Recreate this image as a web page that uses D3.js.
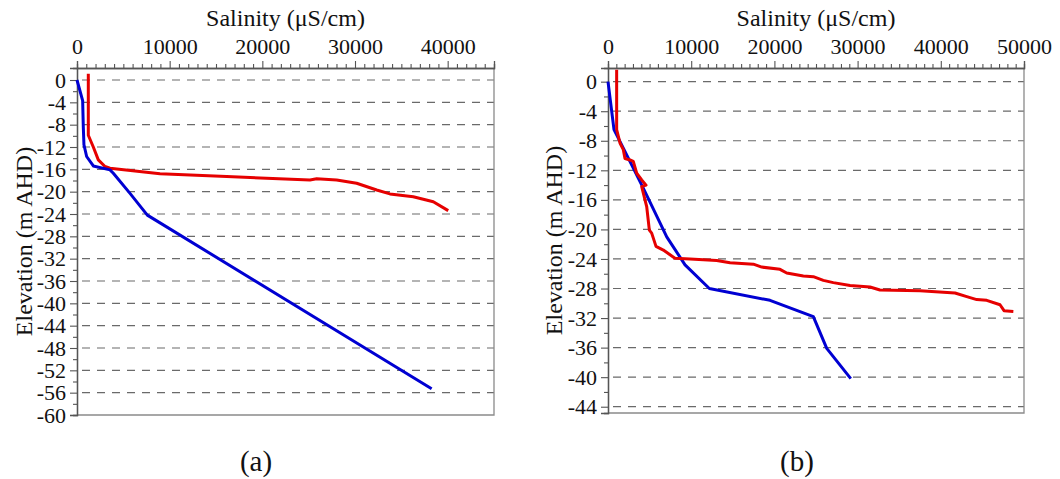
<!DOCTYPE html>
<html>
<head>
<meta charset="utf-8">
<script src="https://cdn.jsdelivr.net/npm/d3@7"></script>
<style>
  html, body { margin: 0; padding: 0; background: #fff; }
  svg { display: block; }
</style>
</head>
<body>
<svg id="chart" width="1060" height="479"></svg>
<script>
// Salinity profiles (µS/cm) against elevation (m AHD) for two bores.

// Panel (a): blue profile
const aBlueSalinity  = [0, 610, 680, 750, 1040, 1760, 3560, 3920, 5720, 7590, 38270];
const aBlueElevation = [0, -3.7, -8.4, -11.6, -13.7, -15.4, -16.1, -16.7, -20.3, -24.2, -55.3];

// Panel (a): red profile
const aRedSalinity  = [1220, 1220, 1760, 2300, 3020, 3560, 8960, 16150, 25140, 25860, 28020, 30180, 32340, 33770, 36290, 38450, 40060];
const aRedElevation = [1.1, -9.9, -12, -14.3, -15.5, -15.8, -16.8, -17.3, -17.9, -17.7, -17.9, -18.5, -19.7, -20.4, -20.9, -21.8, -23.4];

// Panel (b): blue profile
const bBlueSalinity  = [0, 720, 1840, 4240, 7060, 9260, 12180, 19470, 24680, 26290, 29180];
const bBlueElevation = [0, -6.5, -9.0, -14.4, -21.0, -24.8, -28.0, -29.6, -31.8, -36.1, -40.2];

// Panel (b): red profile
const bRedSalinity  = [1040, 1040, 1440, 1840, 2040, 2640, 3040, 3450, 4050, 4570, 4050, 4650, 4970, 5250, 5770, 6650, 8050, 9860, 13070, 14670, 17470, 18480, 20670, 21480, 23480, 24680, 25880, 27080, 29090, 31490, 32690, 37500, 41710, 43120, 44320, 45520, 47120, 47600, 48720];
const bRedElevation = [1.6, -6.5, -8.3, -9.2, -10.4, -10.6, -10.8, -12.4, -13.3, -14.0, -14.2, -16.9, -20.1, -20.5, -22.3, -22.8, -23.9, -24.0, -24.2, -24.5, -24.7, -25.1, -25.4, -25.9, -26.3, -26.4, -26.9, -27.2, -27.6, -27.8, -28.2, -28.3, -28.6, -29.1, -29.5, -29.6, -30.2, -31.0, -31.1];

// Axis tick values
const aSalinityTicks  = [0, 10000, 20000, 30000, 40000];
const bSalinityTicks  = [0, 10000, 20000, 30000, 40000, 50000];
const aElevationTicks = [0, -4, -8, -12, -16, -20, -24, -28, -32, -36, -40, -44, -48, -52, -56, -60];
const bElevationTicks = [0, -4, -8, -12, -16, -20, -24, -28, -32, -36, -40, -44];

const xTitle = "Salinity (\u03BCS/cm)";
const yTitle = "Elevation (m AHD)";
const panelLabels = ["(a)", "(b)"];

const FONT = "Liberation Serif";
const svg = d3.select("#chart");
const zip = (xs, ys) => xs.map((x, i) => [x, ys[i]]);

const panels = [
  {
    left: 77, right: 494, top: 68, bottom: 415,
    xMax: 45000, yDomain: [-60, 2.15],
    xTicks: aSalinityTicks, yTicks: aElevationTicks,
    series: [
      { pts: zip(aRedSalinity, aRedElevation), color: "#e60000" },
      { pts: zip(aBlueSalinity, aBlueElevation), color: "#0000d2" }
    ],
    ylabelX: 32, labelX: 256, label: panelLabels[0]
  },
  {
    left: 608, right: 1024, top: 68, bottom: 413,
    xMax: 50000, yDomain: [-44.85, 1.85],
    xTicks: bSalinityTicks, yTicks: bElevationTicks,
    series: [
      { pts: zip(bBlueSalinity, bBlueElevation), color: "#0000d2" },
      { pts: zip(bRedSalinity, bRedElevation), color: "#e60000" }
    ],
    ylabelX: 562, labelX: 797, label: panelLabels[1]
  }
];

panels.forEach(p => {
  const x = d3.scaleLinear().domain([0, p.xMax]).range([p.left, p.right]);
  const y = d3.scaleLinear().domain(p.yDomain).range([p.bottom, p.top]);
  const g = svg.append("g");

  // dashed horizontal grid at each labelled elevation inside the frame
  g.append("g").selectAll("line")
    .data(p.yTicks.filter(v => v > p.yDomain[0] + 0.5))
    .join("line")
    .attr("x1", p.left + 5).attr("x2", p.right)
    .attr("y1", d => y(d)).attr("y2", d => y(d))
    .attr("stroke", "#6a6a6a").attr("stroke-width", 1.2)
    .attr("stroke-dasharray", "8,7");

  // frame: right and bottom edges
  g.append("path")
    .attr("d", `M${p.left},${p.bottom}H${p.right}V${p.top}`)
    .attr("fill", "none").attr("stroke", "#8a8a8a").attr("stroke-width", 1.3);

  // top axis: minor ticks every 1000, major ticks with labels every 10000
  const minorX = d3.range(0, p.xMax + 1, 1000).filter(v => v % 10000 !== 0);
  const topMinor = g.append("g").attr("transform", `translate(0,${p.top})`)
    .call(d3.axisTop(x).tickValues(minorX).tickSize(4).tickFormat(""));
  const topMajor = g.append("g").attr("transform", `translate(0,${p.top})`)
    .call(d3.axisTop(x).tickValues(p.xTicks).tickSize(7).tickPadding(7).tickFormat(d => String(d)));

  // left axis: minor ticks every 2 m, major ticks with labels every 4 m
  const minorY = d3.range(Math.ceil(p.yDomain[0]), 1, 2).filter(v => v % 4 !== 0);
  const leftMinor = g.append("g").attr("transform", `translate(${p.left},0)`)
    .call(d3.axisLeft(y).tickValues(minorY).tickSize(4).tickFormat(""));
  const leftMajor = g.append("g").attr("transform", `translate(${p.left},0)`)
    .call(d3.axisLeft(y).tickValues(p.yTicks).tickSize(7).tickPadding(4).tickFormat(d => String(d)));

  [topMinor, topMajor, leftMinor, leftMajor].forEach(ax => {
    ax.attr("font-family", FONT).attr("font-size", 22);
    ax.select(".domain").attr("stroke", "#555").attr("stroke-width", 1.3);
    ax.selectAll(".tick line").attr("stroke", "#555").attr("stroke-width", 1.1);
    ax.selectAll(".tick text").attr("fill", "#111").style("font-family", FONT);
  });

  // profiles
  const line = d3.line().x(d => x(d[0])).y(d => y(d[1]));
  p.series.forEach(s => {
    g.append("path").datum(s.pts)
      .attr("d", line)
      .attr("fill", "none")
      .attr("stroke", s.color)
      .attr("stroke-width", 3)
      .attr("stroke-linejoin", "round");
  });

  // axis titles
  g.append("text")
    .attr("x", (p.left + p.right) / 2).attr("y", 26)
    .attr("text-anchor", "middle").attr("fill", "#111")
    .style("font-family", FONT).style("font-size", "24px")
    .text(xTitle);
  g.append("text")
    .attr("transform", `translate(${p.ylabelX},${(p.top + p.bottom) / 2}) rotate(-90)`)
    .attr("text-anchor", "middle").attr("fill", "#111")
    .style("font-family", FONT).style("font-size", "24px")
    .text(yTitle);

  // panel label
  g.append("text")
    .attr("x", p.labelX).attr("y", 471)
    .attr("text-anchor", "middle").attr("fill", "#111")
    .style("font-family", FONT).style("font-size", "29px")
    .text(p.label);
});
</script>
</body>
</html>
